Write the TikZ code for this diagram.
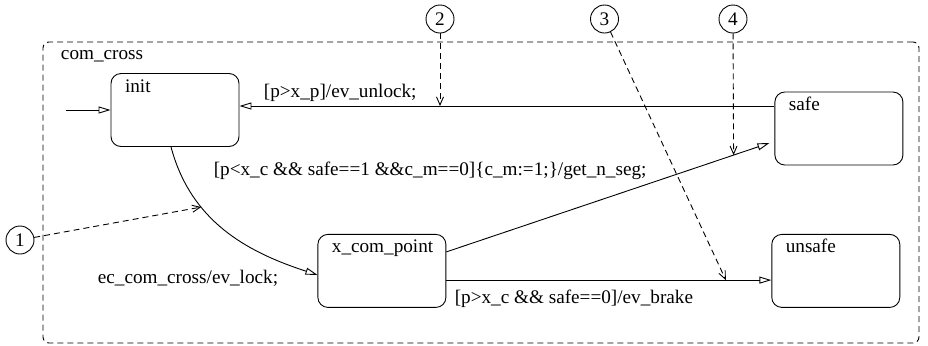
\documentclass[tikz,border=0pt]{standalone}
\usepackage{fontspec}
\setmainfont{Liberation Serif}
\usetikzlibrary{arrows.meta,positioning}

\tikzset{
  box/.style={draw, rounded corners=5pt, minimum width=64pt, minimum height=36.5pt, inner sep=0pt},
  boxname/.style={anchor=base west, xshift=7pt, yshift=-9.5pt, inner sep=0pt},
  num/.style={draw, circle, minimum size=14pt, inner sep=0pt},
  trans/.style={-{Triangle[open,length=6pt,width=3.5pt]}},
  ref/.style={dash pattern=on 3pt off 2pt, -{Straight Barb[length=4pt,width=3.5pt]}},
  tlabel/.style={anchor=base west, inner sep=0pt},
}

\begin{document}
\begin{tikzpicture}[line width=0.45pt, font=\fontsize{9.6}{11}\selectfont]
\useasboundingbox (0,0) rectangle (464pt,172.5pt);
\node [draw, dash pattern=on 3pt off 2pt, rounded corners=3pt, minimum width=438pt, minimum height=150.5pt] (com_cross) at (240.5pt,76.25pt) {};
\node [tlabel, xshift=9pt, yshift=-9pt] at (com_cross.north west) {com\_cross};
\node [box, label={[boxname]north west:init}] (init) at (87.5pt,117.5pt) {};
\node [box, label={[boxname]north west:safe}] (safe) [right=267.5pt of init, yshift=-9.25pt] {};
\node [box, label={[boxname]north west:x\_com\_point}] (x_com_point) [below right=43.5pt and 39pt of init] {};
\node [box, label={[boxname]north west:unsafe}] (unsafe) [right=162.5pt of x_com_point] {};
\node [num] (n1) at (10pt,52.5pt) {1};
\node [num] (n2) at (220pt,163pt) {2};
\node [num] (n3) at (302.25pt,163pt) {3};
\node [num] (n4) at (366.5pt,163pt) {4};
\coordinate [left=22.5pt of init.west] (start);
\coordinate (u) at ([yshift=11.25pt]safe.west);
% transitions
\draw [trans] (start) -- (init);
\draw [trans] (u) -- node [tlabel, at end, xshift=12pt, yshift=4.5pt] {[p>x\_p]/ev\_unlock;} (init.east |- u);
\draw [trans] ([xshift=-2pt]init.south) to [out=-75, in=162]
  coordinate [pos=0.33] (c1)
  node [tlabel, at end, xshift=-110pt, yshift=-4.5pt] {ec\_com\_cross/ev\_lock;}
  ([yshift=-2pt]x_com_point.west);
\draw [trans] ([yshift=9.5pt]x_com_point.east) --
  coordinate [pos=0.889] (c4)
  node [tlabel, at start, xshift=-116.5pt, yshift=38pt] {[p<x\_c \&\& safe==1 \&\&c\_m==0]\{c\_m:=1;\}/get\_n\_seg;}
  ([xshift=-2.5pt, yshift=-7.25pt]safe.west);
\draw [trans] ([yshift=-4.6pt]x_com_point.east) --
  coordinate [pos=0.86] (c3)
  node [tlabel, at start, xshift=4pt, yshift=-11.85pt] {[p>x\_c \&\& safe==0]/ev\_brake}
  ([yshift=-4.6pt]unsafe.west);
% numbered references
\draw [ref] (n1) -- (c1);
\draw [ref] (n2) -- (n2 |- u);
\draw [ref] (n3) -- (c3);
\draw [ref] (n4) -- (c4);
\end{tikzpicture}
\end{document}
